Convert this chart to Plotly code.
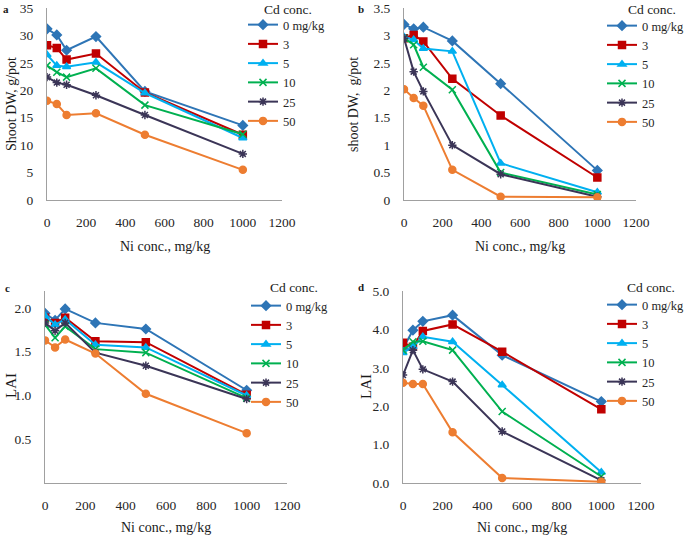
import plotly.graph_objects as go

ni = [0, 50, 100, 250, 500, 1000]
cd_labels = ["0 mg/kg", "3", "5", "10", "25", "50"]

shoot_dw_a = {
    "0 mg/kg": [31.2, 30.1, 27.3, 29.8, 19.8, 13.6],
    "3": [28.2, 27.7, 25.6, 26.7, 19.6, 11.9],
    "5": [26.5, 24.5, 24.3, 25.1, 19.5, 11.3],
    "10": [24.5, 23.3, 22.4, 24.0, 17.3, 12.0],
    "25": [22.4, 21.4, 21.0, 19.1, 15.5, 8.4],
    "50": [18.1, 17.5, 15.5, 15.8, 11.9, 5.5],
}
shoot_dw_b = {
    "0 mg/kg": [3.20, 3.12, 3.15, 2.90, 2.12, 0.54],
    "3": [2.95, 3.01, 2.89, 2.21, 1.54, 0.41],
    "5": [2.97, 2.92, 2.76, 2.71, 0.67, 0.14],
    "10": [2.95, 2.83, 2.42, 2.01, 0.50, 0.10],
    "25": [2.95, 2.34, 1.98, 1.00, 0.47, 0.06],
    "50": [2.02, 1.86, 1.72, 0.55, 0.06, 0.05],
}
lai_c = {
    "0 mg/kg": [1.94, 1.86, 1.99, 1.83, 1.76, 1.06],
    "3": [1.89, 1.83, 1.89, 1.62, 1.61, 1.01],
    "5": [1.91, 1.81, 1.87, 1.58, 1.55, 1.00],
    "10": [1.81, 1.66, 1.79, 1.53, 1.49, 0.97],
    "25": [1.83, 1.74, 1.83, 1.49, 1.34, 0.96],
    "50": [1.63, 1.55, 1.64, 1.48, 1.02, 0.57],
}
lai_d = {
    "0 mg/kg": [3.50, 3.98, 4.21, 4.37, 3.33, 2.12],
    "3": [3.65, 3.55, 3.96, 4.13, 3.42, 1.92],
    "5": [3.39, 3.55, 3.81, 3.68, 2.55, 0.28],
    "10": [3.46, 3.68, 3.69, 3.46, 1.86, 0.17],
    "25": [2.81, 3.46, 2.96, 2.64, 1.34, 0.07],
    "50": [2.61, 2.58, 2.58, 1.32, 0.13, 0.03],
}

colors = {"0 mg/kg": "#2E75B6", "3": "#C00000", "5": "#00B0F0",
          "10": "#00B050", "25": "#3B3557", "50": "#ED7D31"}
symbols = {"0 mg/kg": "diamond", "3": "square", "5": "triangle-up",
           "10": "x-thin-open", "25": "asterisk-open", "50": "circle"}
msize = {"0 mg/kg": 7, "3": 7, "5": 7, "10": 7, "25": 7, "50": 7}

W, H = 685, 537
FONT = "'Liberation Serif', 'Times New Roman', 'DejaVu Serif', serif"
TXT = "#262626"

def fx(sx):
    return sx / W

def fy(sy):
    return 1 - sy / H

panels = [
    (shoot_dw_a, "x", "y", "legend", (47, 282), (8, 200), [0, 35]),
    (shoot_dw_b, "x2", "y2", "legend2", (404, 636), (8, 200), [0, 3.5]),
    (lai_c, "x3", "y3", "legend3", (45, 287), (290.5, 483), [0, 2.2]),
    (lai_d, "x4", "y4", "legend4", (403, 641), (291, 483), [0, 5]),
]

fig = go.Figure()
for data, xa, ya, lg, _, _, _ in panels:
    for lab in cd_labels:
        fig.add_trace(go.Scatter(
            x=ni, y=data[lab], name=lab, mode="lines+markers",
            xaxis=xa, yaxis=ya, legend=lg,
            line=dict(color=colors[lab], width=2),
            marker=dict(symbol=symbols[lab], size=msize[lab], color=colors[lab],
                        line=dict(color=colors[lab], width=1.5)),
        ))

axis_color = "#A0A0A0"
tickfont = dict(family=FONT, size=13.5, color=TXT)
layout = dict(
    width=W, height=H, margin=dict(l=0, r=0, t=0, b=0, autoexpand=False),
    paper_bgcolor="white", plot_bgcolor="white",
    font=dict(family=FONT, size=13, color=TXT),
)
ykeys = ["yaxis", "yaxis2", "yaxis3", "yaxis4"]
xkeys = ["xaxis", "xaxis2", "xaxis3", "xaxis4"]
for i, (data, xa, ya, lg, xd, yd, yr) in enumerate(panels):
    layout[xkeys[i]] = dict(
        domain=[fx(xd[0]), fx(xd[1])], range=[0, 1200], dtick=200, tick0=0,
        showgrid=False, zeroline=False, showline=True, linecolor=axis_color,
        linewidth=1, ticks="", tickfont=tickfont, ticklabelstandoff=10,
        anchor=ya, automargin=False,
    )
    ydict = dict(
        domain=[fy(yd[1]), fy(yd[0])], range=yr, showgrid=False, zeroline=False,
        showline=True, linecolor=axis_color, linewidth=1, ticks="",
        tickfont=tickfont, ticklabelstandoff=10, anchor=xa, automargin=False,
    )
    if i == 0:
        ydict.update(dtick=5, tick0=0)
    elif i == 1:
        ydict.update(dtick=0.5, tick0=0)
    elif i == 2:
        ydict.update(tickvals=[0.5, 1.0, 1.5, 2.0], ticktext=["0.5", "1.0", "1.5", "2.0"])
    else:
        ydict.update(dtick=1, tick0=0, tickformat=".1f")
    layout[ykeys[i]] = ydict

# legend: (left x of legend box, top y) in screen px
legend_pos = {
    "legend": (243, 10),
    "legend2": (602, 11),
    "legend3": (246, 291),
    "legend4": (602, 290),
}
for lg, (lx, ly) in legend_pos.items():
    layout[lg] = dict(
        x=fx(lx), y=fy(ly), xanchor="left", yanchor="top",
        xref="paper", yref="paper",
        font=dict(family=FONT, size=12.5, color=TXT),
        bgcolor="rgba(0,0,0,0)", itemwidth=30, tracegroupgap=0,
        traceorder="normal", borderwidth=0,
    )

fig.update_layout(**layout)

annots = [
    dict(text="<b>a</b>", x=6, y=9),
    dict(text="<b>b</b>", x=361, y=9),
    dict(text="<b>c</b>", x=7, y=288),
    dict(text="<b>d</b>", x=361, y=287),
    dict(text="Cd conc.", x=288, y=10, size=13.5),
    dict(text="Cd conc.", x=652, y=10, size=13.5),
    dict(text="Cd conc.", x=294, y=287, size=13.5),
    dict(text="Cd conc.", x=651, y=287, size=13.5),
    dict(text="Ni conc., mg/kg", x=165, y=246, size=14),
    dict(text="Ni conc., mg/kg", x=520, y=246, size=14),
    dict(text="Ni conc., mg/kg", x=166, y=527, size=14),
    dict(text="Ni conc., mg/kg", x=522, y=527, size=14),
    dict(text="Shoot DW, g/pot", x=11, y=104, size=14, angle=-90),
    dict(text="shoot DW,  g/pot", x=353, y=104, size=14, angle=-90),
    dict(text="LAI", x=11, y=386, size=15, angle=-90),
    dict(text="LAI", x=366, y=386, size=15, angle=-90),
]
for a in annots:
    fig.add_annotation(
        text=a["text"], x=fx(a["x"]), y=fy(a["y"]), xref="paper", yref="paper",
        xanchor="center", yanchor="middle", showarrow=False,
        textangle=a.get("angle", 0),
        font=dict(family=FONT, size=a.get("size", 11), color="#1a1a1a"),
    )

# remove the browser's default 8px body margin so the figure fills the window
fig.write_html("out.html", config={"displayModeBar": False},
               post_script="document.body.style.margin='0';")
